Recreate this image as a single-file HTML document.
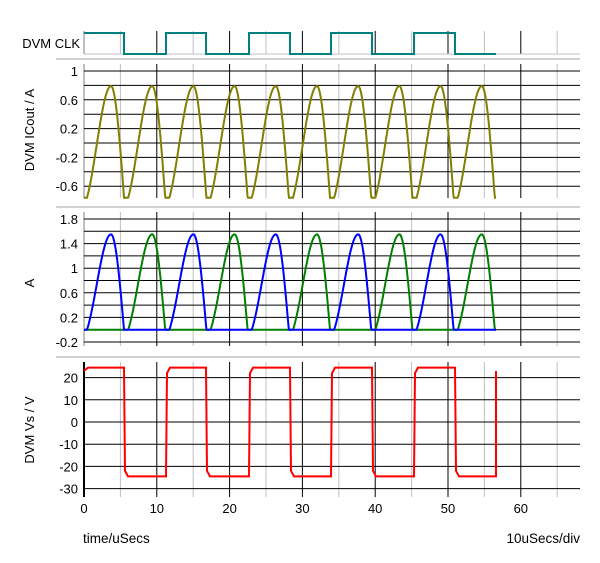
<!DOCTYPE html>
<html><head><meta charset="utf-8"><style>
body{margin:0;background:#fff}
svg{display:block;font-family:"Liberation Sans",Arial,sans-serif;font-size:13px}
</style></head><body>
<svg id="s" width="600" height="563" xmlns="http://www.w3.org/2000/svg"></svg>
<script>
const s=document.getElementById('s');let h='';
const X=t=>84+t*7.28;
function L(x1,y1,x2,y2,c,w){h+=`<line x1="${x1}" y1="${y1}" x2="${x2}" y2="${y2}" stroke="${c}" stroke-width="${w||1}"/>`;}
function T(x,y,t,a,extra){h+=`<text x="${x}" y="${y}" text-anchor="${a||'end'}" ${extra||''}>${t}</text>`;}
const P=[[31,54],[64,198],[212,346],[362,497]];
[59,207,357].forEach(y=>L(56,y,580,y,'#c0c0c0',1.5));
P.forEach(([a,b])=>{for(let t=5;t<=65;t+=10)L(X(t),a,X(t),b,'#c0c0c0');for(let t=10;t<=60;t+=10)L(X(t),a,X(t),b,'#000');L(84,a,84,b,'#c0c0c0',2);});
L(84,54,580,54,'#c0c0c0');
[1,0.8,0.6,0.4,0.2,0,-0.2,-0.4,-0.6].forEach(v=>L(84,71+(1-v)*72,580,71+(1-v)*72,'#000'));
[[1,'1'],[0.6,'0.6'],[0.2,'0.2'],[-0.2,'-0.2'],[-0.6,'-0.6']].forEach(([v,l])=>T(78,71+(1-v)*72+5,l));
const Y3=v=>329.7-v*61.5;
for(let v=-0.2;v<=1.81;v+=0.2)L(84,Y3(v),580,Y3(v),'#000');
[[1.8,'1.8'],[1.4,'1.4'],[1,'1'],[0.6,'0.6'],[0.2,'0.2'],[-0.2,'-0.2']].forEach(([v,l])=>T(78,Y3(v)+5,l));
const Y4=v=>422-v*2.22;
for(let v=-30;v<=20;v+=10){L(84,Y4(v),580,Y4(v),'#000');T(78,Y4(v)+5,String(v));}
L(84,362,84,497,'#000',2);
function pulse(x,n){const s0=87+41.2*n,pk=s0+24,e=s0+37;if(x<s0||x>e)return 0;
 if(x<=pk){const u=(x-s0)/24;return 1.55*(0.5*Math.sin(Math.PI/2*u)+0.5*(1-Math.cos(Math.PI*u))/2);}
 return 1.55*Math.sin(Math.PI/2*(e-x)/13);}
let pb='',pg='',pi='';
for(let x=84;x<=496;x+=0.5){let b=0,g=0;for(let n=0;n<10;n++){const v=pulse(x,n);if(n%2==0)b+=v;else g+=v;}
 pb+=(pb?'L':'M')+x+' '+Y3(b).toFixed(1);pg+=(pg?'L':'M')+x+' '+Y3(g).toFixed(1);
 pi+=(pi?'L':'M')+x+' '+(71+(1-(b+g-0.76))*72).toFixed(1);}
h+=`<path d="${pg}" fill="none" stroke="#008000" stroke-width="2"/>`;
h+=`<path d="${pb}" fill="none" stroke="#0000ff" stroke-width="2"/>`;
h+=`<path d="${pi}" fill="none" stroke="#808000" stroke-width="2"/>`;
const tr=[84,124,166,206,249,290,331,372,414,455,496];
let c='M84 33',v=`M84 ${Y4(23)} L88 ${Y4(24.5)}`,hi=true;
for(let i=1;i<tr.length;i++){const x=tr[i],yh=hi?33:54;c+=`L${x} ${yh}`;
 const vy=hi?24.5:-24.5;v+=`L${x} ${Y4(vy)}`;
 if(i<tr.length-1){hi=!hi;c+=`L${x} ${hi?33:54}`;v+=`L${x+1} ${Y4(hi?22:-22)}L${x+4} ${Y4(hi?24.5:-24.5)}`;}
 else{c+=`L${x} 54`;}}
v+=`L496 ${Y4(23)}`;
h+=`<path d="${c}" fill="none" stroke="#008080" stroke-width="2"/>`;
h+=`<path d="${v}" fill="none" stroke="#ff0000" stroke-width="2"/>`;
T(80,48,'DVM CLK');
T(0,0,'DVM ICout / A','middle','transform="translate(34,130) rotate(-90)"');
T(0,0,'A','middle','transform="translate(34,283) rotate(-90)"');
T(0,0,'DVM Vs / V','middle','transform="translate(34,430) rotate(-90)"');
for(let t=0;t<=60;t+=10)T(X(t),513,String(t),'middle');
h+=`<text x="83" y="543" style="font-size:13.5px">time/uSecs</text>`;
h+=`<text x="580" y="543" text-anchor="end" style="font-size:13.5px">10uSecs/div</text>`;
s.innerHTML=h;
</script>
</body></html>
